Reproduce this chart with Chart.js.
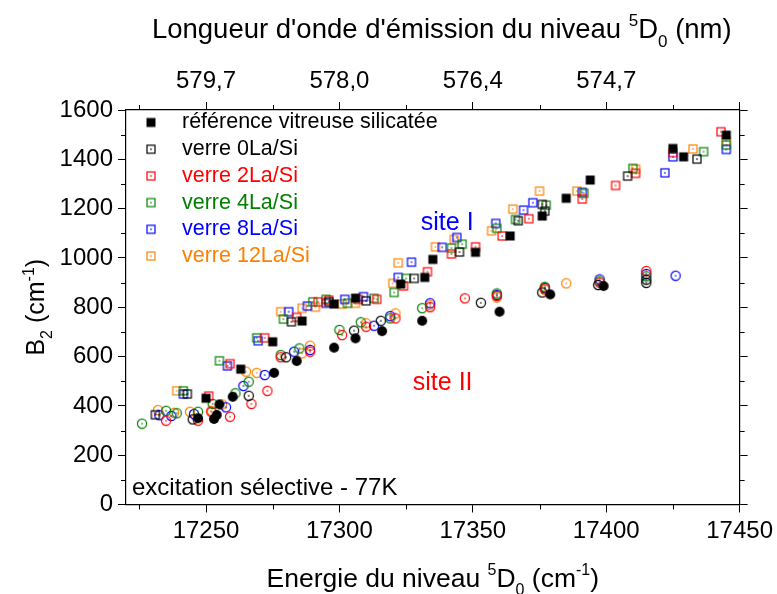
<!DOCTYPE html>
<html>
<head>
<meta charset="utf-8">
<script src="https://cdn.jsdelivr.net/npm/chart.js@4.4.1/dist/chart.umd.min.js"></script>
<style>
  html, body { margin: 0; background: #fff; }
  #wrap { width: 777px; height: 594px; }
</style>
</head>
<body>
<div id="wrap"><canvas id="myChart"></canvas></div>
<script>
// énergie du niveau 5D0 (cm-1) et B2 (cm-1), site I = carrés, site II = ronds
const refI_E  = [17250, 17263, 17275, 17286, 17298, 17306, 17323, 17332, 17335, 17351, 17364, 17376, 17385, 17394, 17425, 17429, 17445]
const refI_B2 = [431, 549, 660, 744, 813, 837, 894, 921, 994, 1023, 1089, 1170, 1242, 1316, 1444, 1410, 1498]
const refII_E  = [17247, 17253, 17254, 17255, 17260, 17275.5, 17284, 17298, 17306, 17316, 17331, 17360, 17379, 17399]
const refII_B2 = [350, 347, 363, 406, 437, 534, 582, 636, 674, 703, 745, 782, 852, 886]

const la0I_E  = [17231, 17243, 17282, 17296, 17310, 17328, 17345, 17367, 17376, 17377, 17408, 17434]
const la0I_B2 = [364, 448, 741, 822, 826, 917, 1024, 1151, 1217, 1190, 1332, 1401]
const la0II_E  = [17245, 17266, 17280, 17305.5, 17315.5, 17353, 17376, 17397, 17415, 17415]
const la0II_B2 = [345, 441, 597, 705, 745, 818, 860, 890, 899, 912]

const la2I_E  = [17251, 17259, 17272, 17284, 17292, 17296, 17307, 17314, 17324, 17333, 17342, 17351, 17361, 17371, 17391, 17403.5, 17411, 17425, 17443]
const la2I_B2 = [440, 571, 676, 759, 822, 829, 832, 832, 886, 944, 1016, 1045, 1089, 1159, 1239, 1294, 1343, 1427, 1512]
const la2II_E  = [17235, 17247, 17252, 17259, 17267, 17273, 17278, 17289, 17301, 17310, 17321, 17334, 17347, 17359, 17377, 17397.5, 17415]
const la2II_B2 = [340, 340, 376, 356, 408, 461, 597, 620, 687, 721, 755, 800, 836, 846, 876, 900, 947]

const la4I_E  = [17241.5, 17255, 17269, 17279, 17290, 17295, 17303, 17313, 17320.5, 17325, 17342, 17346, 17359, 17366, 17377.5, 17391.6, 17410, 17436.5, 17445]
const la4I_B2 = [461, 583, 676, 752, 822, 832, 816, 836, 860, 917, 1040, 1056, 1120, 1156, 1214, 1262, 1363, 1431, 1458]
const la4II_E  = [17226, 17235, 17239, 17247, 17252.5, 17261, 17266, 17278, 17285, 17300, 17308, 17319, 17331, 17359, 17377, 17397.5, 17415]
const la4II_B2 = [328, 380, 370, 376, 408, 451, 498, 606, 633, 708, 739, 755, 796, 856, 883, 905, 925]

const la8I_E  = [17241.5, 17258, 17269.5, 17281, 17288, 17295, 17302, 17309, 17322, 17327, 17338.5, 17344, 17358.6, 17369, 17372.5, 17391, 17422, 17425, 17445]
const la8I_B2 = [448, 562, 664, 782, 805, 816, 832, 843, 921, 983, 1043, 1083, 1140, 1194, 1224, 1266, 1345, 1410, 1440]
const la8II_E  = [17232.5, 17237, 17245.5, 17257.5, 17264, 17272, 17283, 17289, 17313, 17319, 17334, 17359, 17377, 17397.5, 17415, 17426]
const la8II_B2 = [362, 359, 367, 394, 481, 525, 620, 627, 725, 764, 816, 850, 878, 913, 935, 928]

const la12I_E  = [17239, 17278, 17286, 17291, 17301, 17306, 17320, 17322, 17336, 17343, 17357, 17365, 17375, 17389, 17411, 17432.5, 17445]
const la12I_B2 = [461, 782, 796, 800, 813, 816, 897, 980, 1045, 1075, 1110, 1198, 1271, 1271, 1360, 1442, 1475]
const la12II_E  = [17232, 17238, 17244, 17252, 17256, 17265, 17269, 17286, 17289, 17310, 17321, 17334, 17359, 17377, 17385]
const la12II_B2 = [383, 372, 376, 380, 406, 539, 534, 613, 644, 735, 775, 808, 840, 870, 897]

const seriesNames = ['référence vitreuse silicatée', 'verre 0La/Si', 'verre 2La/Si', 'verre 4La/Si', 'verre 8La/Si', 'verre 12La/Si']
const seriesColors = ['#000000', '#000000', '#ff0000', '#008000', '#0000ff', '#ff8000']

const FONT = '"Liberation Sans", Arial, sans-serif'

function makeMarker(shape, color, filled) {
    const size = 12
    const c = document.createElement('canvas')
    c.width = size; c.height = size
    const g = c.getContext('2d')
    g.strokeStyle = color; g.fillStyle = color; g.lineWidth = 1.2
    const h = size / 2
    if (shape === 'square') {
        if (filled) g.fillRect(1.5, 1.5, 9, 9)
        else g.strokeRect(2, 2, 8, 8)
    } else {
        g.beginPath()
        g.arc(h, h, filled ? 5 : 4.6, 0, 2 * Math.PI)
        filled ? g.fill() : g.stroke()
    }
    if (!filled) g.fillRect(h - 0.7, h - 0.7, 1.4, 1.4)
    return c
}

function toPoints(xs, ys) {
    return xs.map((x, i) => ({x: x, y: ys[i]}))
}

const squares = seriesColors.map((c, i) => makeMarker('square', c, i === 0))
const circles = seriesColors.map((c, i) => makeMarker('circle', c, i === 0))

const siteI  = [[refI_E, refI_B2], [la0I_E, la0I_B2], [la2I_E, la2I_B2], [la4I_E, la4I_B2], [la8I_E, la8I_B2], [la12I_E, la12I_B2]]
const siteII = [[refII_E, refII_B2], [la0II_E, la0II_B2], [la2II_E, la2II_B2], [la4II_E, la4II_B2], [la8II_E, la8II_B2], [la12II_E, la12II_B2]]

const datasets = []
seriesNames.forEach((name, i) => {
    datasets.push({label: name, data: toPoints(siteII[i][0], siteII[i][1]), pointStyle: circles[i], pointRadius: 5})
    datasets.push({label: name, data: toPoints(siteI[i][0], siteI[i][1]), pointStyle: squares[i], pointRadius: 5})
})

// texte avec exposants / indices
function drawRich(ctx, parts, x, y, size) {
    const small = Math.round(size * 0.62)
    let total = 0
    parts.forEach(p => {
        ctx.font = (p.sup || p.sub ? small : size) + 'px ' + FONT
        p.w = ctx.measureText(p.t).width
        total += p.w
    })
    let cx = x - total / 2
    parts.forEach(p => {
        ctx.font = (p.sup || p.sub ? small : size) + 'px ' + FONT
        const dy = p.sup ? -size * 0.42 : (p.sub ? size * 0.32 : 0)
        ctx.fillText(p.t, cx, y + dy)
        cx += p.w
    })
}

const decorPlugin = {
    id: 'decor',
    afterDraw(chart) {
        const {ctx, chartArea: a, scales} = chart
        const x = scales.x, y = scales.y
        ctx.save()
        // graduations secondaires
        ctx.strokeStyle = '#000'; ctx.lineWidth = 1
        ctx.beginPath()
        for (let v = 17225; v < 17450; v += 50) {
            const px = Math.round(x.getPixelForValue(v)) + 0.5
            ctx.moveTo(px, a.bottom); ctx.lineTo(px, a.bottom + 5)
            ctx.moveTo(px, a.top); ctx.lineTo(px, a.top - 5)
        }
        for (let v = 100; v < 1600; v += 200) {
            const py = Math.round(y.getPixelForValue(v)) + 0.5
            ctx.moveTo(a.left, py); ctx.lineTo(a.left - 5, py)
            ctx.moveTo(a.right, py); ctx.lineTo(a.right + 5, py)
        }
        ctx.stroke()

        // légende dans le cadre
        ctx.textBaseline = 'middle'
        ctx.textAlign = 'left'
        ctx.font = '21.5px ' + FONT
        seriesNames.forEach((name, i) => {
            const ly = a.top + 12.5 + i * 26.7
            ctx.drawImage(squares[i], a.left + 19, ly - 6)
            ctx.fillStyle = seriesColors[i]
            ctx.fillText(name, a.left + 56, ly)
        })

        // annotations
        ctx.font = '25px ' + FONT
        ctx.fillStyle = '#0000ff'
        ctx.fillText('site I', x.getPixelForValue(17330.5), y.getPixelForValue(1141))
        ctx.fillStyle = '#ff0000'
        ctx.fillText('site II', x.getPixelForValue(17327.5), y.getPixelForValue(493))
        ctx.fillStyle = '#000'
        ctx.font = '24px ' + FONT
        ctx.fillText('excitation sélective - 77K', a.left + 6, a.bottom - 16)

        // titres des axes
        ctx.textBaseline = 'alphabetic'
        drawRich(ctx, [{t: 'Energie du niveau '}, {t: '5', sup: true}, {t: 'D'}, {t: '0', sub: true},
            {t: ' (cm'}, {t: '-1', sup: true}, {t: ')'}], (a.left + a.right) / 2 - 0, a.bottom + 82, 26.5)
        drawRich(ctx, [{t: "Longueur d'onde d'émission du niveau "}, {t: '5', sup: true}, {t: 'D'}, {t: '0', sub: true},
            {t: ' (nm)'}], (a.left + a.right) / 2 + 9, a.top - 72, 27.5)
        ctx.translate(a.left - 82, (a.top + a.bottom) / 2)
        ctx.rotate(-Math.PI / 2)
        drawRich(ctx, [{t: 'B'}, {t: '2', sub: true}, {t: ' (cm'}, {t: '-1', sup: true}, {t: ')'}], 0, 0, 25)
        ctx.restore()
    }
}

const axisGrid = {drawOnChartArea: false, drawTicks: true, tickLength: 8, tickColor: '#000', tickWidth: 1}
const axisBorder = {display: true, color: '#000', width: 1.2}
const tickFont = {family: FONT, size: 24}

const config = {
    type: 'scatter',
    data: {datasets: datasets},
    options: {
        responsive: true,
        maintainAspectRatio: false,
        animation: false,
        events: [],
        layout: {padding: 0},
        plugins: {legend: {display: false}, tooltip: {enabled: false}},
        scales: {
            x: {
                type: 'linear', position: 'bottom', min: 17220, max: 17450,
                grid: axisGrid, border: axisBorder,
                ticks: {stepSize: 50, includeBounds: false, color: '#000', font: tickFont, padding: 4, maxRotation: 0,
                    callback: v => String(v)},
                afterFit: s => { s.height = 89.5 }
            },
            xtop: {
                type: 'linear', position: 'top', min: 17220, max: 17450,
                grid: axisGrid, border: axisBorder,
                ticks: {stepSize: 50, includeBounds: false, color: '#000', font: tickFont, padding: 6, maxRotation: 0,
                    callback: v => v <= 17400 ? (1e7 / v).toFixed(1).replace('.', ',') : ''},
                afterFit: s => { s.height = 110 }
            },
            y: {
                type: 'linear', position: 'left', min: 0, max: 1600,
                grid: axisGrid, border: axisBorder,
                ticks: {stepSize: 200, color: '#000', font: tickFont, padding: 5, callback: v => String(v)},
                afterFit: s => { s.width = 126 }
            },
            yright: {
                type: 'linear', position: 'right', min: 0, max: 1600,
                grid: axisGrid, border: axisBorder,
                ticks: {stepSize: 200, callback: () => ''},
                afterFit: s => { s.width = 37 }
            }
        }
    },
    plugins: [decorPlugin]
}

new Chart(document.getElementById('myChart'), config)
</script>
</body>
</html>
